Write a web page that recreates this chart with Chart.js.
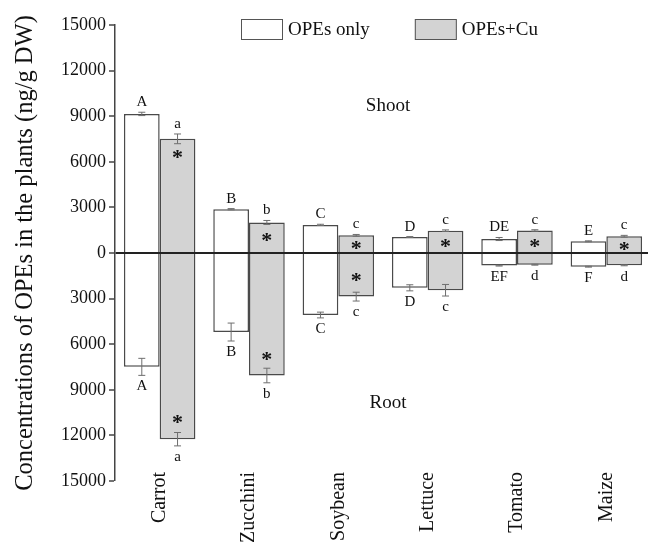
<!DOCTYPE html>
<html><head><meta charset="utf-8">
<script src="https://cdn.jsdelivr.net/npm/chart.js@4/dist/chart.umd.min.js"></script>
<style>html,body{margin:0;padding:0;overflow:hidden;background:#fff;width:648px;height:542px}
#wrap{position:relative;width:651px;height:542px}
canvas{display:block}</style></head><body>
<div id="wrap"><canvas id="c" width="651" height="542"></canvas></div>
<script>
const categories = ['Carrot', 'Zucchini', 'Soybean', 'Lettuce', 'Tomato', 'Maize'];
const seriesNames = ['OPEs only', 'OPEs+Cu'];
const shootOnly = [9150, 2880, 1850, 1050, 920, 770];
const shootOnlyErr = [110, 40, 40, 30, 100, 30];
const shootCu = [7510, 2010, 1160, 1470, 1480, 1100];
const shootCuErr = [320, 130, 60, 50, 50, 60];
const rootOnly = [7490, 5200, 4080, 2290, 830, 900];
const rootOnlyErr = [560, 590, 190, 200, 30, 30];
const rootCu = [12250, 8060, 2870, 2450, 770, 810];
const rootCuErr = [440, 480, 290, 380, 30, 30];
const shootOnlyLetters = ['A', 'B', 'C', 'D', 'DE', 'E'];
const shootCuLetters = ['a', 'b', 'c', 'c', 'c', 'c'];
const rootOnlyLetters = ['A', 'B', 'C', 'D', 'EF', 'F'];
const rootCuLetters = ['a', 'b', 'c', 'c', 'd', 'd'];
const shootStar = [true, true, true, true, true, true];
const rootStar = [true, true, true, false, false, false];
const yTickStep = 3000;
const yLimit = 15000;
const yTitle = 'Concentrations of OPEs in the plants (ng/g DW)';
const regionLabels = ['Shoot', 'Root'];

const SERIF = '"Liberation Serif", "Times New Roman", serif';
const WHITE = '#ffffff', GRAY = '#d3d3d3', EDGE = '#4a4a4a';

const annot = [
  { ds: 0, err: shootOnlyErr, letters: shootOnlyLetters, dir: 1, stars: null },
  { ds: 1, err: shootCuErr, letters: shootCuLetters, dir: 1, stars: shootStar },
  { ds: 2, err: rootOnlyErr, letters: rootOnlyLetters, dir: -1, stars: null },
  { ds: 3, err: rootCuErr, letters: rootCuLetters, dir: -1, stars: rootStar }
];

const annotPlugin = {
  id: 'annot',
  afterDatasetsDraw(chart) {
    const ctx = chart.ctx, y = chart.scales.y;
    const zeroY = y.getPixelForValue(0);
    ctx.save();
    annot.forEach(a => {
      const meta = chart.getDatasetMeta(a.ds);
      const data = chart.data.datasets[a.ds].data;
      meta.data.forEach((el, i) => {
        const v = data[i], e = a.err[i];
        const y1 = y.getPixelForValue(v + e), y2 = y.getPixelForValue(v - e);
        const x = el.x;
        ctx.strokeStyle = '#6e6e6e';
        ctx.lineWidth = 1;
        ctx.beginPath();
        ctx.moveTo(x, y1); ctx.lineTo(x, y2);
        ctx.moveTo(x - 3.5, y1); ctx.lineTo(x + 3.5, y1);
        ctx.moveTo(x - 3.5, y2); ctx.lineTo(x + 3.5, y2);
        ctx.stroke();
        ctx.fillStyle = '#111';
        ctx.font = '15px ' + SERIF;
        ctx.textAlign = 'center';
        ctx.textBaseline = 'middle';
        const top = Math.min(y1, y2), bot = Math.max(y1, y2);
        if (a.dir > 0) ctx.fillText(a.letters[i], x, top - 10);
        else ctx.fillText(a.letters[i], x, bot + 11);
        if (a.stars && a.stars[i]) {
          const end = y.getPixelForValue(v);
          let sy;
          if (a.dir > 0) sy = Math.min(end + 15, (end + zeroY) / 2 + 1);
          else sy = Math.max(end - 20, (end + zeroY) / 2);
          ctx.font = 'bold 22px ' + SERIF;
          ctx.textBaseline = 'alphabetic';
          ctx.fillText('*', x, sy + 10);
        }
      });
    });
    // region labels
    ctx.font = '19px ' + SERIF;
    ctx.fillStyle = '#111';
    ctx.textAlign = 'center';
    ctx.textBaseline = 'middle';
    ctx.fillText(regionLabels[0], 388, y.getPixelForValue(9700));
    ctx.fillText(regionLabels[1], 388, y.getPixelForValue(-9850));
    // legend
    const items = [{ label: seriesNames[0], fill: WHITE }, { label: seriesNames[1], fill: GRAY }];
    let lx = 241;
    const ly = 19;
    items.forEach(it => {
      ctx.fillStyle = it.fill;
      ctx.fillRect(lx, ly, 42, 21);
      ctx.strokeStyle = '#555';
      ctx.lineWidth = 1;
      ctx.strokeRect(lx + 0.5, ly + 0.5, 41, 20);
      ctx.fillStyle = '#111';
      ctx.font = '19px ' + SERIF;
      ctx.textAlign = 'left';
      ctx.textBaseline = 'middle';
      ctx.fillText(it.label, lx + 47, ly + 11);
      lx += 47 + ctx.measureText(it.label).width + 45;
    });
    ctx.restore();
  }
};

new Chart(document.getElementById('c'), {
  type: 'bar',
  data: {
    labels: categories,
    datasets: [
      { label: seriesNames[0], stack: 'only', data: shootOnly.slice(), backgroundColor: WHITE, borderColor: EDGE, borderWidth: 1.5 },
      { label: seriesNames[1], stack: 'cu', data: shootCu.slice(), backgroundColor: GRAY, borderColor: EDGE, borderWidth: 1.5 },
      { label: seriesNames[0] + ' (root)', stack: 'only', data: rootOnly.map(v => -v), backgroundColor: WHITE, borderColor: EDGE, borderWidth: 1.5 },
      { label: seriesNames[1] + ' (root)', stack: 'cu', data: rootCu.map(v => -v), backgroundColor: GRAY, borderColor: EDGE, borderWidth: 1.5 }
    ]
  },
  options: {
    responsive: false,
    animation: false,
    devicePixelRatio: 1,
    layout: { padding: { top: 25, right: 0, left: 0, bottom: 0 } },
    datasets: { bar: { categoryPercentage: 0.8, barPercentage: 1.0 } },
    plugins: { legend: { display: false }, tooltip: { enabled: false } },
    scales: {
      x: {
        stacked: true,
        offset: true,
        grid: { display: false, drawTicks: false },
        border: { display: false },
        ticks: { minRotation: 90, maxRotation: 90, autoSkip: false, padding: -9, color: '#111', font: { family: SERIF, size: 20 } },
        afterFit: s => { s.height = 61; s._computeLabelArea = function () { return undefined; }; }
      },
      y: {
        stacked: true,
        min: -yLimit, max: yLimit,
        z: 1,
        ticks: { stepSize: yTickStep, padding: 3, color: '#111', font: { family: SERIF, size: 18 }, callback: v => String(Math.abs(v)) },
        grid: {
          drawTicks: true, tickLength: 6,
          color: c => (c.tick && c.tick.value === 0) ? '#222' : 'rgba(0,0,0,0)',
          lineWidth: c => (c.tick && c.tick.value === 0) ? 2 : 0,
          tickColor: '#444', tickWidth: 1.5
        },
        border: { display: true, color: '#444', width: 1.5 },
        title: { display: true, text: yTitle, color: '#111', font: { family: SERIF, size: 24.5 }, padding: { top: 11, bottom: 0 } },
        afterFit: s => { s.width = 115; }
      }
    }
  },
  plugins: [annotPlugin]
});
</script></body></html>
